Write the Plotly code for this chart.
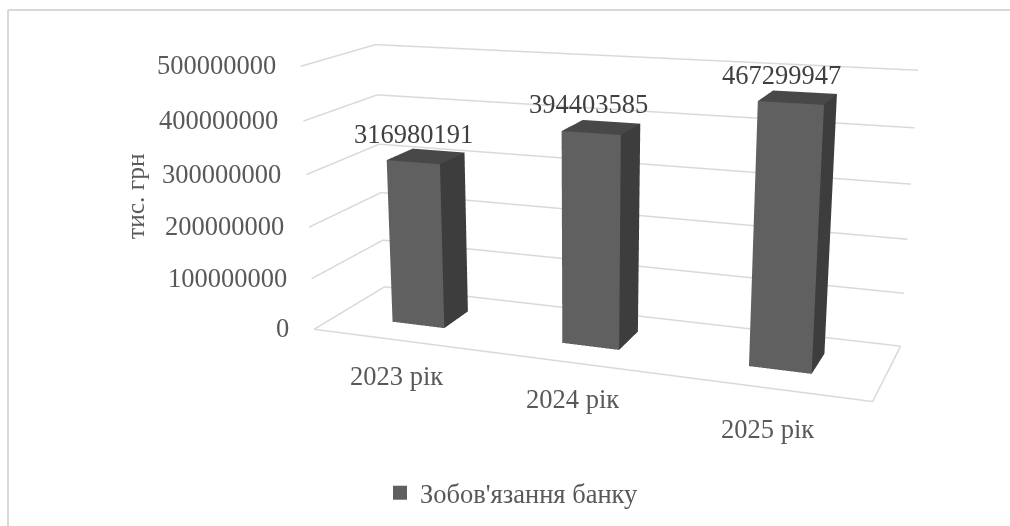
import plotly.graph_objects as go

categories = ["2023 рік", "2024 рік", "2025 рік"]
values = [316980191, 394403585, 467299947]
z_ticks = [0, 100000000, 200000000, 300000000, 400000000, 500000000]
series_name = "Зобов'язання банку"
axis_title = "тис. грн"

ZR = 5.001e8
W, WH = 1010, 526
H2 = 1250
OY = (H2-WH)/2
ex,ey,ez,cx,cy,cz,ux,uy,ax,ay = 1.7515,-4.9935,1.3290,-0.1973,-0.4247,-0.1166,0.0153,-0.0011,2.0891,0.5814
BW,Y0,Y1 = 0.3146,0.3180,0.6927
def bar(i):
    return (i+0.5-BW/2, i+0.5+BW/2)

fig=go.Figure()
GRID="#d9d9d9"
for i,v in enumerate(values):
    a,b=bar(i)
    xs=[a,b,b,a,a,b,b,a]; ys=[Y0,Y0,Y1,Y1,Y0,Y0,Y1,Y1]; zs=[0,0,0,0,v,v,v,v]
    I=[0,0,1,1,4,4]; Jj=[1,5,2,6,5,6]; K=[5,4,6,5,6,7]
    fc=["#606060"]*2+["#3d3d3d"]*2+["#484848"]*2
    fig.add_trace(go.Mesh3d(x=xs,y=ys,z=zs,i=I,j=Jj,k=K,facecolor=fc,flatshading=True,
        lighting=dict(ambient=1,diffuse=0,specular=0,fresnel=0,roughness=1),
        hoverinfo="skip",showlegend=False,showscale=False))
for t in z_ticks:
    fig.add_trace(go.Scatter3d(x=[0,0,3],y=[0,1,1],z=[t,t,t],mode="lines",line=dict(color=GRID,width=3),showlegend=False,hoverinfo="skip"))
fig.add_trace(go.Scatter3d(x=[0,3,3],y=[0,0,1],z=[0,0,0],mode="lines",line=dict(color=GRID,width=3),showlegend=False,hoverinfo="skip"))
fig.add_trace(go.Scatter3d(x=[None],y=[None],z=[None],mode="markers",marker=dict(symbol="square",size=14,color="#606060"),name=series_name,showlegend=True,hoverinfo="skip"))

SER="Liberation Serif"
ann=[]
for t in z_ticks:
    ann.append(dict(x=0,y=0,z=t,text=str(t),showarrow=False,xanchor="right",xshift=-23,yshift=1,font=dict(family=SER,size=26.5,color="#595959")))
cat_dy=[-36,-36,-41]
for i,c in enumerate(categories):
    ann.append(dict(x=i+.5,y=0,z=0,text=c,showarrow=False,yshift=cat_dy[i],font=dict(family=SER,size=26.5,color="#595959")))
lab_dx=[-12,-13,-16]
lab_dy=[22,23,23]
for i,v in enumerate(values):
    ann.append(dict(x=i+.5,y=.5,z=v,text=str(v),showarrow=False,xshift=lab_dx[i],yshift=lab_dy[i],font=dict(family=SER,size=26.5,color="#404040")))

def py(y): return 1-(y+OY)/H2
hid=dict(showgrid=False,showticklabels=False,showline=False,zeroline=False,showbackground=False,showspikes=False,title="",ticks="")
fig.update_layout(width=W,height=H2,margin=dict(l=0,r=0,t=0,b=0),paper_bgcolor="white",
 scene=dict(domain=dict(x=[0,1],y=[0,1]),dragmode="orbit",
  xaxis=dict(range=[0,3],**hid),yaxis=dict(range=[0,1],**hid),zaxis=dict(range=[0,ZR],**hid),
  aspectmode="manual",aspectratio=dict(x=ax,y=ay,z=1),
  camera=dict(eye=dict(x=ex,y=ey,z=ez),center=dict(x=cx,y=cy,z=cz),up=dict(x=ux,y=uy,z=1)),
  annotations=ann),
 legend=dict(x=380/W,xanchor="left",y=py(493),yanchor="middle",bgcolor="rgba(0,0,0,0)",font=dict(family=SER,size=26.5,color="#595959")),
 shapes=[dict(type="line",xref="paper",yref="paper",x0=8/W,x1=8/W,y0=py(WH),y1=py(10),line=dict(color=GRID,width=2)),
         dict(type="line",xref="paper",yref="paper",x0=8/W,x1=1,y0=py(10),y1=py(10),line=dict(color=GRID,width=2))],
 annotations=[dict(xref="paper",yref="paper",x=135/W,y=py(196),xanchor="center",yanchor="middle",text=axis_title,textangle=-90,showarrow=False,font=dict(family=SER,size=25.5,color="#595959"))])
js=f"document.body.style.margin='0';document.body.style.overflow='hidden';document.documentElement.style.overflow='hidden';document.getElementById('{{plot_id}}').style.marginTop='-{OY}px';"
fig.write_html("out.html",post_script=js)
